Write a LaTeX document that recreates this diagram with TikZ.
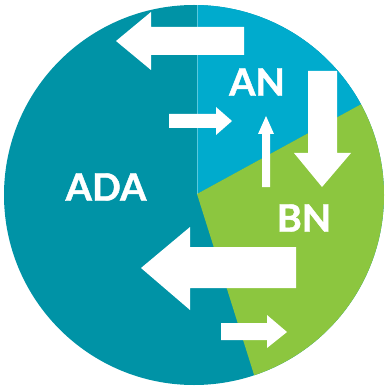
\documentclass[tikz,border=0pt]{standalone}
\usepackage{fontspec}
\setmainfont{Lato}[BoldFeatures={FakeBold=1.2}]
\usetikzlibrary{calc}

\definecolor{adacol}{HTML}{0093A6}
\definecolor{ancol}{HTML}{00ABCD}
\definecolor{bncol}{HTML}{8CC63F}

\tikzset{
  block/.style={fill=white,draw=none},
  label/.style={text=white,font=\fontsize{38}{38}\selectfont\bfseries,inner sep=0pt}
}

\begin{document}
\begin{tikzpicture}[x=1pt,y=-1pt]
\useasboundingbox (0,0) rectangle (385,387);

% pie
\begin{scope}
\clip (194,195) circle (190);
\fill[adacol] (0,0) rectangle (385,387);
\fill[ancol] (197,194) -- (197,-10) -- (420,-10) -- (420,72) -- cycle;
\fill[bncol] (197,194) -- (420,72) -- (420,400) -- (262,400) -- cycle;
\draw[white,opacity=0.35,line width=0.6] (197,194) -- (197,-10);
\end{scope}

% arrows
\fill[block] (244,27) -- (151,27) -- (151,12) -- (116,41) -- (151,70) -- (151,55) -- (244,55) -- cycle;
\fill[block] (169,114) -- (216,114) -- (216,107) -- (232,121) -- (216,135) -- (216,128) -- (169,128) -- cycle;
\fill[block] (262,187) -- (262,134) -- (258,134) -- (266,116) -- (274,134) -- (270,134) -- (270,187) -- cycle;
\fill[block] (308,71) -- (308,153) -- (294,153) -- (322,187) -- (351,153) -- (337,153) -- (337,71) -- cycle;
\fill[block] (296,247) -- (190,247) -- (190,227) -- (141,268) -- (190,310) -- (190,288) -- (296,288) -- cycle;
\fill[block] (221,323) -- (267,323) -- (267,315) -- (287,332) -- (267,348) -- (267,340) -- (221,340) -- cycle;

% labels
\node[label] (an) at (257,82) {AN};
\node[label] (ada) at (106,187) {ADA};
\node[label] (bn) at (304,218) {BN};
\end{tikzpicture}
\end{document}
